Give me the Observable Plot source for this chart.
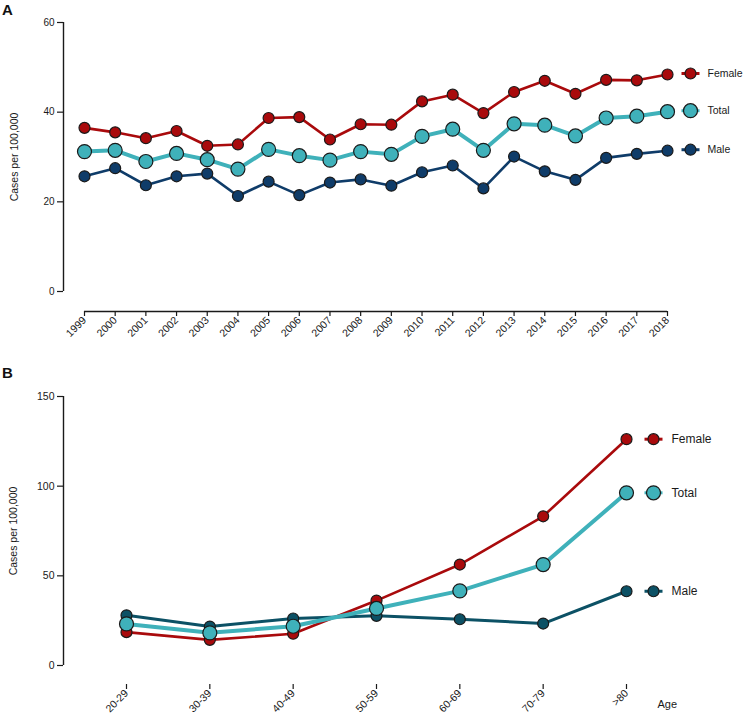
<!DOCTYPE html>
<html>
<head>
<meta charset="utf-8">
<script src="https://cdn.jsdelivr.net/npm/d3@7"></script>
<script src="https://cdn.jsdelivr.net/npm/@observablehq/plot@0.6"></script>
<style>
  html, body { margin: 0; padding: 0; background: #fff; }
  #page { position: relative; width: 744px; height: 725px; overflow: hidden; font-family: "Liberation Sans", Arial, sans-serif; }
  .panel-tag { position: absolute; left: 2px; font-weight: bold; font-size: 15px; line-height: 15px; color: #111; }
  #chartA { position: absolute; left: 0; top: 0; }
  #chartB { position: absolute; left: 0; top: 380px; }
  svg { overflow: visible; }
</style>
</head>
<body>
<div id="page">
  <div id="chartA"></div>
  <div id="chartB"></div>
  <div class="panel-tag" style="top:1.5px">A</div>
  <div class="panel-tag" style="top:364.5px">B</div>
</div>
<script>
// Panel A: incidence by calendar year
const years = [1999, 2000, 2001, 2002, 2003, 2004, 2005, 2006, 2007, 2008,
               2009, 2010, 2011, 2012, 2013, 2014, 2015, 2016, 2017, 2018];
const femaleByYear = [36.5, 35.5, 34.2, 35.8, 32.5, 32.8, 38.7, 38.9, 33.9, 37.3,
                      37.2, 42.4, 43.9, 39.8, 44.5, 47.0, 44.1, 47.2, 47.1, 48.4];
const totalByYear  = [31.2, 31.5, 29.0, 30.8, 29.4, 27.3, 31.7, 30.3, 29.3, 31.2,
                      30.6, 34.6, 36.2, 31.5, 37.4, 37.1, 34.7, 38.7, 39.1, 40.1];
const maleByYear   = [25.7, 27.5, 23.7, 25.7, 26.3, 21.3, 24.5, 21.5, 24.3, 25.0,
                      23.6, 26.6, 28.1, 23.0, 30.1, 26.8, 24.9, 29.8, 30.7, 31.4];
const yearTicks = [0, 20, 40, 60];

// Panel B: incidence by age group
const ageGroups = ["20-29", "30-39", "40-49", "50-59", "60-69", "70-79", ">80"];
const femaleByAge = [18.6, 14.3, 17.7, 36.2, 56.3, 83.2, 126.2];
const totalByAge  = [23.2, 18.2, 21.9, 31.8, 41.6, 56.3, 96.3];
const maleByAge   = [28.0, 21.7, 26.2, 27.7, 25.8, 23.4, 41.4];
const ageTicks = [0, 50, 100, 150];

const yLabel = "Cases per 100,000";
const xLabelB = "Age";

const FONT = "'Liberation Sans', Arial, sans-serif";
const INK = "#1a1a1a";

// short horizontal stroke drawn behind a legend marker
const dash = {
  draw(ctx, size) {
    const r = Math.sqrt(size / Math.PI);
    ctx.moveTo(-r, 0);
    ctx.lineTo(r, 0);
  }
};

function toRows(xs, values) {
  return xs.map((x, i) => ({x, y: values[i]}));
}

function seriesMarks(series, legend) {
  const marks = [];
  for (const s of series) {
    marks.push(Plot.line(s.rows, {x: "x", y: "y", stroke: s.color, strokeWidth: s.lineWidth, curve: "linear"}));
    marks.push(Plot.dot(s.rows, {x: "x", y: "y", r: s.r, fill: s.color, stroke: INK, strokeWidth: 1.2}));
  }
  for (const s of series) {
    const last = [s.rows[s.rows.length - 1]];
    marks.push(Plot.dot(last, {x: "x", y: "y", r: 9, symbol: dash, stroke: s.color, strokeWidth: 3, fill: "none", dx: legend.markerDx, dy: legend.dy}));
    marks.push(Plot.dot(last, {x: "x", y: "y", r: s.r, fill: s.color, stroke: INK, strokeWidth: 1.2, dx: legend.markerDx, dy: legend.dy}));
    marks.push(Plot.text(last, {x: "x", y: "y", text: () => s.name, textAnchor: "start", dx: legend.textDx, dy: legend.dy, fontSize: legend.fontSize, fill: INK}));
  }
  return marks;
}

// ---- Panel A ----
const yearSeries = [
  {name: "Female", rows: toRows(years, femaleByYear), color: "#a90a0c", lineWidth: 2.6, r: 5.5},
  {name: "Male",   rows: toRows(years, maleByYear),   color: "#0f3c69", lineWidth: 2.6, r: 5.5},
  {name: "Total",  rows: toRows(years, totalByYear),  color: "#3fb1ba", lineWidth: 4,   r: 7}
];

const chartA = Plot.plot({
  width: 744,
  height: 370,
  marginTop: 22,
  marginBottom: 59,
  marginLeft: 63,
  marginRight: 77,
  style: {fontFamily: FONT, fontSize: "10px", color: INK, background: "transparent", overflow: "visible"},
  x: {type: "point", domain: years, padding: 0, round: false, insetLeft: 21},
  y: {domain: [0, 60], insetBottom: 20},
  marks: [
    Plot.ruleX([years[0]], {y1: 0, y2: 60, dx: -21, stroke: INK, strokeWidth: 1.4}),
    Plot.axisY({ticks: yearTicks, tickSize: 6, tickPadding: 3, label: null, stroke: INK, strokeWidth: 1.2, fontSize: 10}),
    Plot.ruleY([0], {x1: years[0], x2: years[years.length - 1], dy: 20, stroke: INK, strokeWidth: 1.4}),
    Plot.axisX({tickRotate: -45, tickSize: 5, tickPadding: 2, label: null, tickFormat: d => String(d), stroke: INK, strokeWidth: 1.2, fontSize: 10.5}),
    Plot.text([yLabel], {x: [years[0]], y: [d3.mean([0, 60])], text: d => d, rotate: -90, dx: -70, fontSize: 10.5, fill: INK}),
    ...seriesMarks(yearSeries, {markerDx: 23, textDx: 40, dy: -1, fontSize: 10.5})
  ]
});
document.getElementById("chartA").append(chartA);

// ---- Panel B ----
const ageSeries = [
  {name: "Female", rows: toRows(ageGroups, femaleByAge), color: "#a90a0c", lineWidth: 2.6, r: 5.5},
  {name: "Male",   rows: toRows(ageGroups, maleByAge),   color: "#0c5165", lineWidth: 3,   r: 5.5},
  {name: "Total",  rows: toRows(ageGroups, totalByAge),  color: "#3fb1ba", lineWidth: 4,   r: 7}
];

const chartB = Plot.plot({
  width: 744,
  height: 345,
  marginTop: 16,
  marginBottom: 41,
  marginLeft: 63,
  marginRight: 118,
  style: {fontFamily: FONT, fontSize: "10px", color: INK, background: "transparent", overflow: "visible"},
  x: {type: "point", domain: ageGroups, padding: 0, round: false, insetLeft: 63},
  y: {domain: [0, 150], insetBottom: 19},
  marks: [
    Plot.ruleX([ageGroups[0]], {y1: 0, y2: 150, dx: -63, stroke: INK, strokeWidth: 1.4}),
    Plot.axisY({ticks: ageTicks, tickSize: 6, tickPadding: 3, label: null, stroke: INK, strokeWidth: 1.2, fontSize: 10.5}),
    Plot.ruleY([0], {x1: ageGroups[0], x2: ageGroups[ageGroups.length - 1], dy: 19, stroke: INK, strokeWidth: 1.4}),
    Plot.axisX({tickRotate: -45, tickSize: 5, tickPadding: 2, label: null, stroke: INK, strokeWidth: 1.2, fontSize: 10.5}),
    Plot.text([yLabel], {x: [ageGroups[0]], y: [d3.mean([0, 150])], text: d => d, rotate: -90, dx: -113, fontSize: 10.5, fill: INK}),
    Plot.text([xLabelB], {x: [ageGroups[ageGroups.length - 1]], y: [0], text: d => d, textAnchor: "start", dx: 31, dy: 39, fontSize: 11, fill: INK}),
    ...seriesMarks(ageSeries, {markerDx: 27, textDx: 45, dy: 0, fontSize: 12})
  ]
});
document.getElementById("chartB").append(chartB);
</script>
</body>
</html>
